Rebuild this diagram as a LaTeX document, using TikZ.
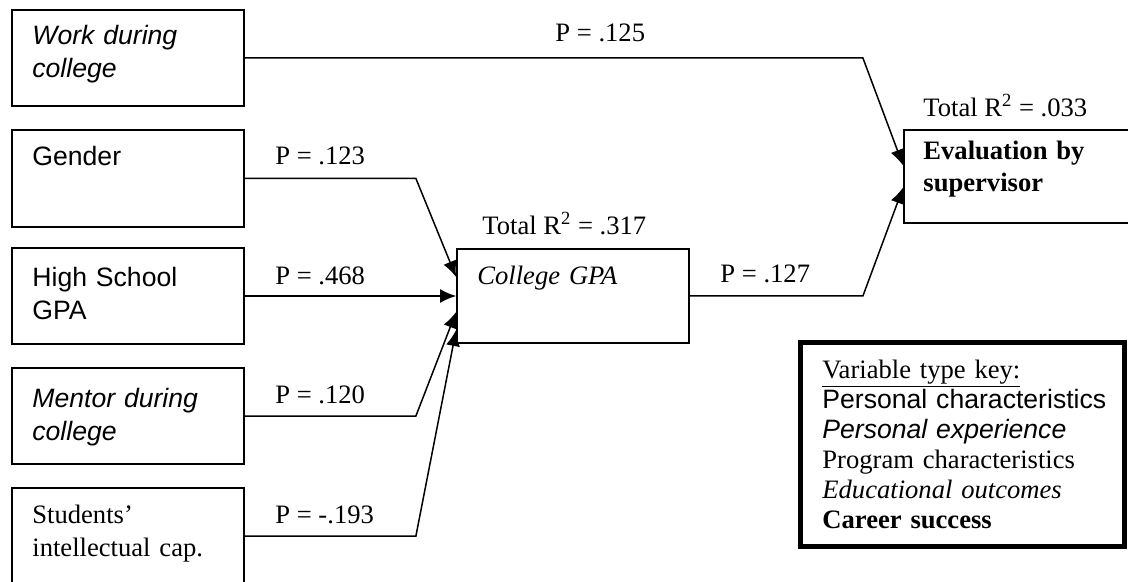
\documentclass[tikz,border=0pt]{standalone}
\usepackage{fontspec}
\setmainfont{Liberation Serif}
\newfontfamily\arialfont{Liberation Sans}
\usetikzlibrary{arrows.meta,calc}
\begin{document}
\begin{tikzpicture}[x=0.5pt,y=-0.5pt,
  box/.style={draw, line width=0.9pt, minimum width=116pt, minimum height=48pt, inner sep=0pt},
  txt/.style={anchor=base west, inner sep=0pt, text width=150pt, align=left},
  sf/.style={font=\fontsize{13.3}{16.5}\selectfont\arialfont},
  sfit/.style={font=\fontsize{13.3}{16.5}\selectfont\arialfont\itshape},
  rm/.style={font=\fontsize{13.3}{16.5}\selectfont},
  rmit/.style={font=\fontsize{13.3}{16.5}\selectfont\itshape},
  rmbf/.style={font=\fontsize{13.3}{16}\selectfont\bfseries},
  plabel/.style={anchor=base west, inner sep=0pt, font=\fontsize{13.3}{16}\selectfont},
  conn/.style={line width=0.75pt},
  arr/.style={conn, -{Latex[length=8pt,width=7pt]}}]
\useasboundingbox (0,0) rectangle (1128,582);
\clip (0,0) rectangle (1128,582);

% left boxes
\node[box] (work) at (128,58) {};
\node[box, minimum height=48.5pt] (gender) at (128,178.5) {};
\node[box] (hs) at (128,296) {};
\node[box] (mentor) at (128,416) {};
\node[box] (students) at (128,536) {};

\node[txt, sfit] (work-t) at (32,45) {Work during\\college};
\node[txt, sf] (gender-t) at (32,166) {Gender};
\node[txt, sf] (hs-t) at (32,287) {High School\\GPA};
\node[txt, sfit] (mentor-t) at (32,407) {Mentor during\\college};
\node[txt, rm] (students-t) at (32,523) {Students’\\intellectual cap.};

% college GPA
\node[box, minimum height=47pt] (gpa) at (573,296) {};
\node[txt, rmit] (gpa-t) at (477,285) {College GPA};
\node[plabel] (r2a) at (482,235) {Total R\textsuperscript{2} = .317};

% evaluation
\node[box, minimum width=118pt, minimum height=46.5pt] (eval) at (1022,176.5) {};
\node[txt, rmbf] (eval-t) at (923,160) {Evaluation by\\supervisor};
\node[plabel] (r2b) at (923,117) {Total R\textsuperscript{2} = .033};

% key
\node[draw, line width=2.5pt, minimum width=162pt, minimum height=102pt, inner sep=0pt] (key) at (962,444) {};
\node[txt, font=\fontsize{13.3}{15}\selectfont] (key-t) at (822,378) {\underline{Variable type key:}\\
{\arialfont Personal characteristics}\\
{\arialfont\itshape Personal experience}\\
Program characteristics\\
{\itshape Educational outcomes}\\
{\bfseries Career success}};

% target points
\coordinate (g1) at ($(gpa.west)+(0,-19)$);
\coordinate (g3) at ($(gpa.west)+(0,16)$);
\coordinate (g4) at ($(gpa.west)+(0,34)$);
\coordinate (e1) at ($(eval.west)+(0,-11)$);
\coordinate (e2) at ($(eval.west)+(0,11)$);

% connectors
\draw[arr] (work.east) -- ++(618,0) -- (e1);
\draw[arr] (gender.east) -- ++(171,0) -- (g1);
\draw[arr] (hs.east) -- (hs.east -| gpa.west);
\draw[arr] (mentor.east) -- ++(171,0) -- (g3);
\draw[arr] (students.east) -- ++(171,0) -- (g4);
\draw[arr] (gpa.east) -- ++(173,0) -- (e2);

% path labels
\node[plabel] (p125) at (555,42) {P = .125};
\node[plabel] (p123) at (275,165) {P = .123};
\node[plabel] (p468) at (275,285) {P = .468};
\node[plabel] (p120) at (275,403) {P = .120};
\node[plabel] (p193) at (275,523) {P = -.193};
\node[plabel] (p127) at (720,283) {P = .127};
\end{tikzpicture}
\end{document}
